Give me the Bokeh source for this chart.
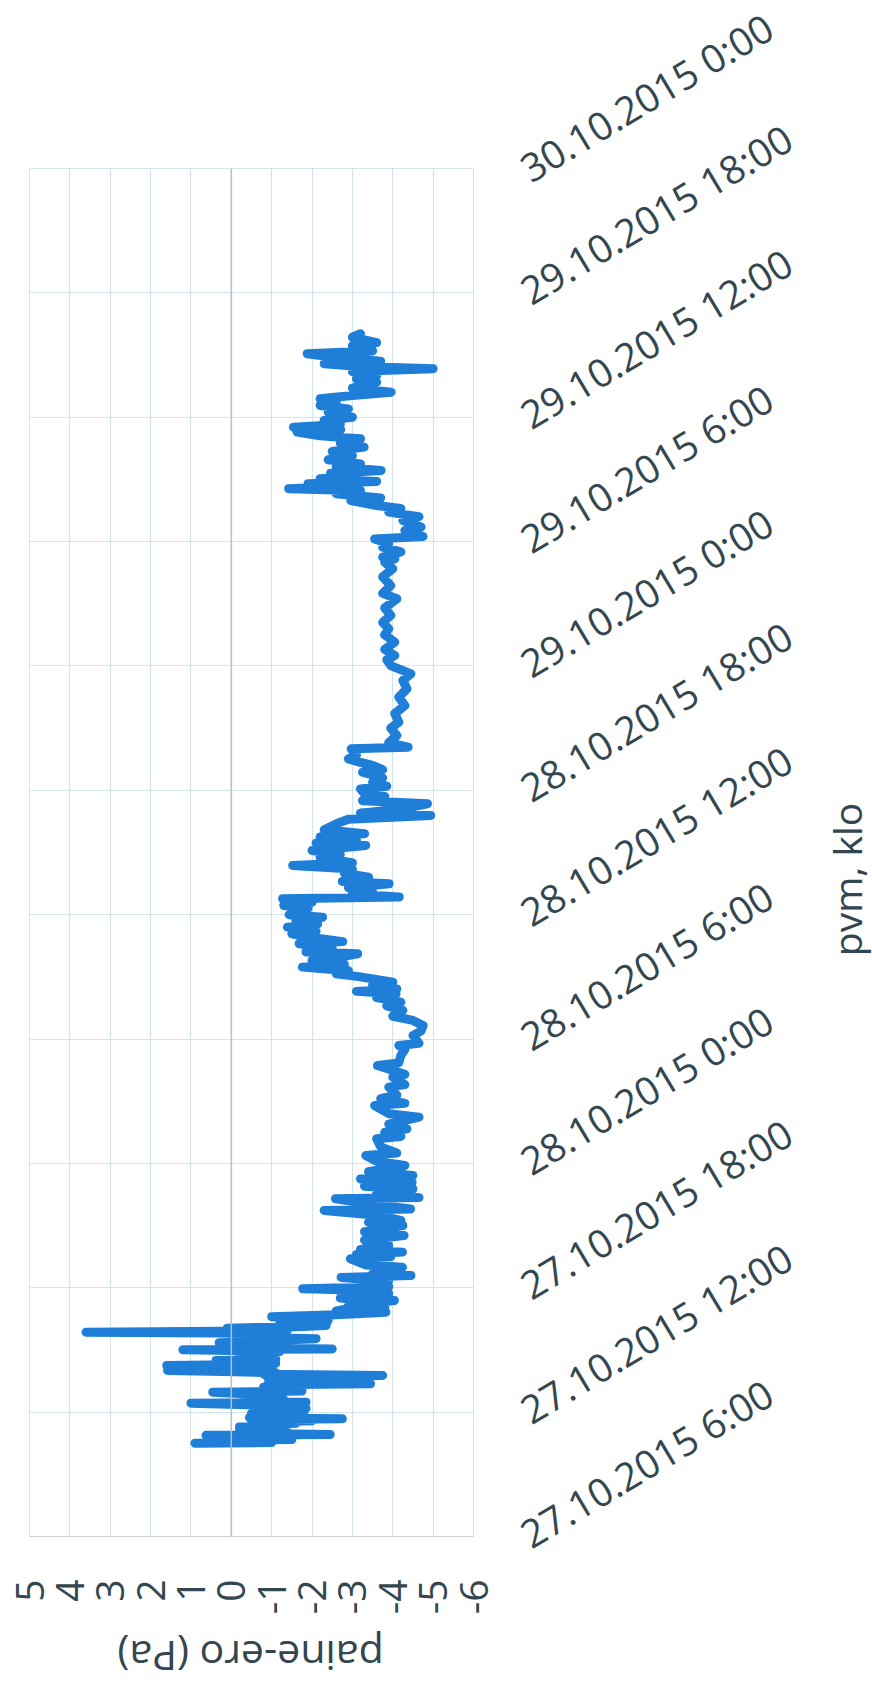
import math
from bokeh.plotting import figure
from bokeh.layouts import row, column
from bokeh.models import Range1d, FixedTicker, Span
from bokeh.core.properties import value
from bokeh.embed import file_html
from bokeh.resources import INLINE

# time in hours since 27.10.2015 0:00, pressure difference in Pa
hours_a = [
    10.50, 10.53, 10.57, 10.60, 10.64, 10.68, 10.72, 10.76, 10.80, 10.84,
    10.88, 10.92, 10.97, 11.02, 11.07, 11.12, 11.17, 11.22, 11.28, 11.34,
    11.40, 11.46, 11.52, 11.58, 11.64, 11.68, 11.73, 11.78, 11.83, 11.88,
    11.93, 11.98, 12.03, 12.08, 12.13, 12.18, 12.24, 12.30, 12.36, 12.43,
    12.48, 12.54, 12.60, 12.66, 12.72, 12.78, 12.84, 12.90, 12.96, 13.02,
    13.08, 13.14, 13.20, 13.26, 13.32, 13.37, 13.43, 13.50, 13.56, 13.62,
    13.68, 13.77, 13.83, 13.90, 13.96, 14.01, 14.06, 14.12, 14.18, 14.25,
    14.30, 14.35, 14.42, 14.49, 14.55, 14.62, 14.68, 14.74, 14.80, 14.86,
    14.92, 14.96, 15.01, 15.05, 15.10, 15.16, 15.21, 15.27, 15.35, 15.42,
    15.48, 15.54, 15.60, 15.66, 15.72, 15.80, 15.86, 15.92, 15.98, 16.05,
    16.12, 16.18, 16.24, 16.30, 16.36, 16.42, 16.50, 16.60, 16.70, 16.82,
    16.88, 16.95, 17.00, 17.06, 17.13, 17.20, 17.30, 17.39, 17.45, 17.50,
    17.60, 17.71, 17.76, 17.80, 17.88, 17.95, 18.05, 18.12, 18.19, 18.27,
    18.35, 18.42, 18.50, 18.59, 18.67, 18.75, 18.85, 18.99, 19.10,
]
pa_a = [
    0.90, -1.00, 0.50, -0.80, 0.20, -1.50, -0.20, -0.90, 0.60, -1.20,
    0.63, -2.45, -0.60, -1.40, -0.20, -1.20, -0.40, -1.30, -0.20, -1.00,
    -0.50, -1.60, -0.70, -2.00, -0.80, -2.75, -0.45, -1.60, -0.60, -1.70,
    -0.50, -1.80, -0.60, -1.40, -0.55, -1.85, -0.55, -1.30, -0.40, 1.00,
    -1.85, -0.40, -1.30, -0.60, -1.20, -0.30, -1.10, -0.20, 0.46, -1.75,
    -0.80, -1.50, -0.80, -1.40, -0.90, -3.45, -1.10, -2.20, -1.00, -2.00,
    -0.90, -3.75, -0.80, -1.10, 0.20, 1.58, -0.20, -1.00, -0.10, 1.60,
    -0.40, -1.10, -0.20, 0.38, -1.10, -0.40, -1.00, -0.20, -0.90, -0.30,
    -1.20, -0.40, 1.20, -2.50, -0.50, -1.40, -0.30, -1.00, 0.30, -0.80,
    -1.30, -2.10, -0.50, -1.30, -0.30, -0.60, 3.60, -0.60, -1.40, 0.10,
    -1.60, -2.35, -1.20, -1.50, -2.20, -2.40, -1.60, -1.00, -2.60, -3.83,
    -2.60, -2.80, -3.60, -3.80, -2.90, -3.10, -3.70, -4.04, -3.00, -2.70,
    -3.50, -3.90, -3.00, -2.70, -3.30, -1.77, -3.90, -3.30, -3.20, -3.80,
    -3.90, -3.20, -2.72, -4.45, -3.50, -3.60, -4.10, -4.24, -3.34,
]
hours_b = [
    19.40, 19.50, 19.60, 19.72, 19.85, 20.04, 20.30, 20.52, 20.70, 21.00,
    21.15, 21.25, 21.50, 21.73, 21.80, 22.00, 22.29, 22.35, 22.55, 22.77,
    22.90, 23.09, 23.25, 23.42, 23.60, 23.90, 24.10, 24.38, 24.50, 24.80,
    25.19, 25.30, 25.50, 25.67, 25.90, 26.23, 26.40, 26.79, 26.90, 27.12,
    27.30, 27.68, 27.80, 28.16, 28.30, 28.72, 28.85, 29.21, 29.50, 29.69,
    29.80, 30.17, 30.40, 30.65,
]
pa_b = [
    -2.95, -3.95, -3.10, -4.24, -3.20, -3.90, -3.30, -4.28, -3.30, -4.25,
    -3.40, -4.20, -3.60, -2.30, -4.44, -3.60, -2.58, -4.65, -3.60, -4.50,
    -3.30, -4.48, -3.20, -4.50, -3.40, -4.30, -3.60, -3.33, -4.10, -3.70,
    -3.60, -4.20, -3.80, -4.35, -3.90, -4.65, -3.90, -3.55, -4.30, -3.70,
    -4.10, -3.90, -4.30, -4.00, -4.30, -3.62, -4.15, -4.20, -4.30, -4.15,
    -4.65, -4.50, -4.70, -4.75,
]
hours_c = [
    30.90, 31.10, 31.38, 31.60, 31.78, 32.00, 32.18, 32.30, 32.42, 32.60,
    32.74, 33.00, 33.15, 33.30, 33.47, 33.60, 33.79, 33.95, 34.11, 34.20,
    34.40, 34.60, 34.70, 34.90, 35.08, 35.20, 35.40, 35.55, 35.70, 35.88,
    36.00, 36.30, 36.44, 36.60, 36.77, 36.85, 37.00, 37.09, 37.30, 37.49,
    37.60, 37.81, 38.00, 38.20, 38.37, 38.50, 38.77, 38.90, 39.10, 39.34,
    39.45, 39.58, 39.75, 39.90, 40.10, 40.39, 40.60, 40.79, 40.90, 41.10,
    41.35, 41.50, 41.70, 41.83,
]
pa_c = [
    -4.50, -4.00, -4.25, -3.85, -4.20, -3.60, -4.08, -3.10, -4.10, -3.50,
    -4.00, -3.20, -2.60, -2.90, -1.76, -2.80, -2.00, -2.70, -3.13, -1.85,
    -2.50, -1.68, -2.76, -2.00, -1.50, -2.10, -1.39, -2.14, -1.60, -2.26,
    -1.43, -1.90, -1.30, -2.00, -1.27, -4.16, -3.00, -3.50, -2.90, -3.91,
    -2.75, -3.40, -2.80, -3.00, -1.52, -3.00, -2.20, -2.70, -2.00, -3.33,
    -2.10, -3.10, -2.20, -3.30, -2.30, -2.60, -2.90, -4.94, -3.20, -4.20,
    -4.86, -3.25, -3.80, -3.30,
]
hours_d = [
    42.07, 42.20, 42.39, 42.60, 42.87, 43.00, 43.20, 43.35, 43.52, 43.70,
    44.00, 44.08, 44.30, 44.65, 45.00, 45.29, 45.70, 46.09, 46.50, 46.90,
    47.30, 47.62, 48.02, 48.30, 48.50, 48.80, 49.15, 49.50, 49.79, 50.10,
    50.44, 50.80, 51.24, 51.50, 51.88, 52.30, 52.69, 53.00, 53.17,
]
pa_d = [
    -3.20, -3.85, -3.50, -3.75, -3.25, -3.75, -3.50, -3.20, -2.90, -3.10,
    -2.97, -4.38, -3.90, -4.10, -3.95, -4.15, -4.05, -4.30, -4.15, -4.35,
    -4.25, -4.45, -3.95, -3.85, -4.05, -3.80, -4.05, -3.80, -3.90, -3.75,
    -3.95, -3.80, -4.10, -3.75, -3.95, -3.75, -4.00, -3.80, -4.05,
]
hours_e = [
    53.25, 53.50, 53.73, 53.90, 54.13, 54.25, 54.54, 54.70, 55.02, 55.20,
    55.42, 55.60, 55.74, 55.98, 56.10, 56.31, 56.45, 56.55, 56.65, 56.79,
    56.90, 57.03, 57.15, 57.30, 57.43, 57.60, 57.75, 57.95, 58.15, 58.35,
    58.56, 58.75, 58.96, 59.10, 59.28, 59.40, 59.52, 59.65, 59.84, 60.00,
    60.24, 60.40, 60.57, 60.75, 60.89, 61.05, 61.21, 61.40, 61.69, 61.85,
    62.01, 62.20, 62.34, 62.45, 62.58, 62.70, 62.90, 63.06, 63.20, 63.46,
    63.60, 63.86, 64.03,
]
pa_e = [
    -3.75, -4.20, -3.75, -3.90, -3.55, -4.75, -4.30, -4.70, -4.25, -4.65,
    -3.90, -4.20, -3.60, -2.96, -3.70, -2.60, -3.20, -1.42, -2.54, -1.90,
    -3.60, -2.20, -3.10, -2.46, -3.71, -2.60, -3.20, -2.40, -3.00, -2.50,
    -3.29, -2.70, -3.20, -2.20, -1.63, -2.71, -1.54, -2.70, -2.30, -3.00,
    -2.40, -2.90, -2.20, -2.60, -2.20, -3.00, -3.96, -3.00, -3.60, -3.10,
    -3.60, -3.00, -5.00, -3.20, -2.30, -3.70, -2.50, -1.88, -3.50, -3.00,
    -3.60, -3.00, -3.20,
]

value_ticks = [5, 4, 3, 2, 1, 0, -1, -2, -3, -4, -5, -6]
time_ticks = [6, 12, 18, 24, 30, 36, 42, 48, 54, 60, 66, 72]
time_labels = [
    "27.10.2015 6:00", "27.10.2015 12:00", "27.10.2015 18:00",
    "28.10.2015 0:00", "28.10.2015 6:00", "28.10.2015 12:00",
    "28.10.2015 18:00", "29.10.2015 0:00", "29.10.2015 6:00",
    "29.10.2015 12:00", "29.10.2015 18:00", "30.10.2015 0:00",
]
value_title = "paine-ero (Pa)"
time_title = "pvm, klo"

hours = hours_a + hours_b + hours_c + hours_d + hours_e
pa = pa_a + pa_b + pa_c + pa_d + pa_e

FONT = "Open Sans"
TXT = "#34464f"
GRID = "#d2e5ea"

MAIN_W, MAIN_H = 819, 1626
SIDE_W = 872 - MAIN_W
BOTTOM_H = 1688 - MAIN_H

p = figure(width=MAIN_W, height=MAIN_H, output_backend="svg", toolbar_location=None,
           x_range=Range1d(5, -6), y_range=Range1d(6, 72),
           y_axis_location="right",
           min_border_left=29, min_border_right=MAIN_W - 473,
           min_border_top=168, min_border_bottom=MAIN_H - 1536)
p.background_fill_color = "white"
p.border_fill_color = "white"
p.outline_line_color = GRID

p.xgrid.ticker = FixedTicker(ticks=value_ticks)
p.ygrid.ticker = FixedTicker(ticks=time_ticks)
p.xgrid.grid_line_color = GRID
p.ygrid.grid_line_color = GRID
p.xgrid.grid_line_width = 1.2
p.ygrid.grid_line_width = 1.2

xa = p.xaxis[0]
xa.ticker = FixedTicker(ticks=value_ticks)
xa.major_label_overrides = {v: str(v) for v in value_ticks}
xa.major_label_orientation = math.pi / 2
xa.major_label_standoff = 43
xa.major_tick_in = 0
xa.major_tick_out = 0
xa.minor_tick_in = 0
xa.minor_tick_out = 0
xa.axis_line_color = "#c8d2d6"
xa.major_label_text_font = FONT
xa.major_label_text_font_size = "39px"
xa.major_label_text_color = TXT

ya = p.yaxis[0]
ya.ticker = FixedTicker(ticks=time_ticks)
ya.major_label_overrides = dict(zip(time_ticks, time_labels))
ya.major_label_orientation = 0.54
ya.major_label_standoff = 50
ya.major_tick_in = 0
ya.major_tick_out = 0
ya.minor_tick_in = 0
ya.minor_tick_out = 0
ya.axis_line_color = None
ya.major_label_text_font = FONT
ya.major_label_text_font_size = "39px"
ya.major_label_text_color = TXT

p.add_layout(Span(location=0, dimension="height", line_color="#b8bfc2", line_width=1.5))

p.line(pa, hours, line_color="#1f7fd8", line_width=9,
       line_join="round", line_cap="round")


def title_panel(w, h):
    f = figure(width=w, height=h, output_backend="svg", toolbar_location=None,
               x_range=Range1d(0, w), y_range=Range1d(0, h), min_border=0)
    f.axis.visible = False
    f.grid.visible = False
    f.outline_line_color = None
    f.background_fill_color = "white"
    f.border_fill_color = "white"
    return f


side = title_panel(SIDE_W, MAIN_H)
side.text(x=[846 - MAIN_W], y=[MAIN_H - 845], text=[time_title], angle=math.pi / 2,
          text_align="center", text_baseline="middle",
          text_font=value(FONT), text_font_size=value("39px"), text_color=TXT)

bottom = title_panel(872, BOTTOM_H)
bottom.text(x=[250], y=[BOTTOM_H - (1656 - MAIN_H)], text=[value_title], angle=math.pi,
            text_align="center", text_baseline="middle",
            text_font=value(FONT), text_font_size=value("41px"), text_color=TXT)

layout = column(row(p, side), bottom)

open("out.html", "w").write(file_html(layout, INLINE))
